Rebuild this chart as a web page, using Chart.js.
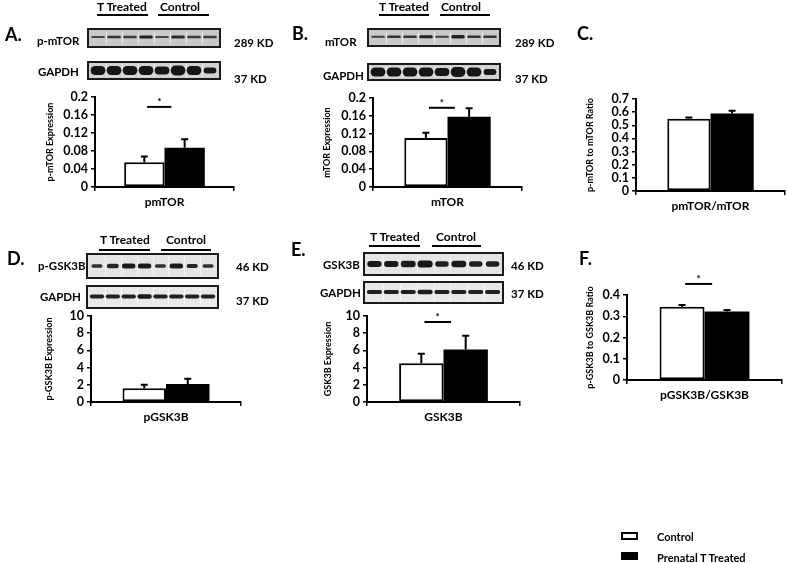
<!DOCTYPE html>
<html>
<head>
<meta charset="utf-8">
<script src="https://cdn.jsdelivr.net/npm/chart.js@4.4.1/dist/chart.umd.min.js"></script>
<style>
    body { margin: 0; background: #fff; }
    #figure { position: relative; width: 787px; height: 563px; overflow: hidden; font-family: Lato, 'Open Sans', sans-serif; color: #000; }
    #deco { position: absolute; left: 0; top: 0; }
    .lbl { position: absolute; font-weight: bold; white-space: nowrap; transform: translateY(-50%); line-height: 1; }
    .chart-box { position: absolute; }
</style>
</head>
<body>
<div id="figure">
    <canvas id="deco" width="787" height="563"></canvas>
</div>
<script>
// ========================================
// DATA
// ========================================

// A. p-mTOR
const categoriesA = ['pmTOR'];
const controlA = [0.055];
const controlErrA = [0.013];
const treatedA = [0.087];
const treatedErrA = [0.019];
const yTicksA = ['0', '0.04', '0.08', '0.12', '0.16', '0.2'];

// B. mTOR
const categoriesB = ['mTOR'];
const controlB = [0.110];
const controlErrB = [0.012];
const treatedB = [0.158];
const treatedErrB = [0.019];
const yTicksB = ['0', '0.04', '0.08', '0.12', '0.16', '0.2'];

// C. pmTOR / mTOR
const categoriesC = ['pmTOR/mTOR'];
const controlC = [0.55];
const controlErrC = [0.01];
const treatedC = [0.59];
const treatedErrC = [0.02];
const yTicksC = ['0', '0.1', '0.2', '0.3', '0.4', '0.5', '0.6', '0.7'];

// D. p-GSK3B
const categoriesD = ['pGSK3B'];
const controlD = [1.6];
const controlErrD = [0.4];
const treatedD = [2.1];
const treatedErrD = [0.6];
const yTicksD = ['0', '2', '4', '6', '8', '10'];

// E. GSK3B
const categoriesE = ['GSK3B'];
const controlE = [4.5];
const controlErrE = [1.1];
const treatedE = [6.1];
const treatedErrE = [1.6];
const yTicksE = ['0', '2', '4', '6', '8', '10'];

// F. pGSK3B / GSK3B
const categoriesF = ['pGSK3B/GSK3B'];
const controlF = [0.345];
const controlErrF = [0.008];
const treatedF = [0.322];
const treatedErrF = [0.007];
const yTicksF = ['0', '0.1', '0.2', '0.3', '0.4'];

// significance bar heights (data units), null = none
const sigLevels = { A: 0.178, B: 0.178, C: null, D: null, E: 9.3, F: 0.452 };

const seriesNames = ['Control', 'Prenatal T Treated'];

// ========================================
// PLUGINS
// ========================================

const errorBarPlugin = {
    id: 'errorBars',
    afterDatasetsDraw(chart) {
        const ctx = chart.ctx;
        const yScale = chart.scales.y;
        chart.data.datasets.forEach((ds, di) => {
            const meta = chart.getDatasetMeta(di);
            meta.data.forEach((bar, i) => {
                const yTop = yScale.getPixelForValue(ds.data[i] + ds.errors[i]);
                ctx.save();
                ctx.strokeStyle = '#000';
                ctx.lineWidth = 2;
                ctx.beginPath();
                ctx.moveTo(bar.x, bar.y);
                ctx.lineTo(bar.x, yTop);
                ctx.moveTo(bar.x - 3.5, yTop);
                ctx.lineTo(bar.x + 3.5, yTop);
                ctx.stroke();
                ctx.restore();
            });
        });
    }
};

const sigPlugin = {
    id: 'sigMark',
    afterDraw(chart, args, opts) {
        if (opts.value == null) return;
        const ctx = chart.ctx;
        const bar = chart.getDatasetMeta(0).data[0];
        const y = chart.scales.y.getPixelForValue(opts.value);
        const x0 = bar.x + bar.width * 0.07;
        const x1 = x0 + bar.width * 0.6;
        ctx.save();
        ctx.strokeStyle = '#000';
        ctx.lineWidth = 2;
        ctx.beginPath();
        ctx.moveTo(x0, y);
        ctx.lineTo(x1, y);
        ctx.stroke();
        ctx.fillStyle = '#000';
        ctx.font = 'bold 10px Lato';
        ctx.textAlign = 'center';
        ctx.fillText('*', (x0 + x1) / 2, y - 2);
        ctx.restore();
    }
};

// ========================================
// CHART BUILDER
// ========================================

const figure = document.getElementById('figure');

function makeChart(geo, labels, control, controlErr, treated, treatedErr, yMax, yStep, yTicks, yTitle, sig) {
    const padTop = geo.padTop || 14;
    const xAxisH = 24;
    const cLeft = geo.titleX - 5;
    const cTop = geo.top - padTop;
    const cWidth = Math.min(787, geo.right + 4) - cLeft;
    const cHeight = geo.bottom + xAxisH - cTop;

    const box = document.createElement('div');
    box.className = 'chart-box';
    box.style.left = cLeft + 'px';
    box.style.top = cTop + 'px';
    const canvas = document.createElement('canvas');
    canvas.width = cWidth;
    canvas.height = cHeight;
    box.appendChild(canvas);
    figure.appendChild(box);

    return new Chart(canvas, {
        type: 'bar',
        data: {
            labels: labels,
            datasets: [
                {
                    label: seriesNames[0], data: control, errors: controlErr,
                    backgroundColor: '#fff', borderColor: '#000', borderWidth: 2, borderSkipped: false,
                    categoryPercentage: 0.58, barPercentage: 1
                },
                {
                    label: seriesNames[1], data: treated, errors: treatedErr,
                    backgroundColor: '#000', borderColor: '#000', borderWidth: 0,
                    categoryPercentage: 0.58, barPercentage: 1
                }
            ]
        },
        options: {
            responsive: false,
            animation: false,
            layout: { padding: { top: padTop, right: cWidth - (geo.right - cLeft), left: 0, bottom: 0 } },
            plugins: {
                legend: { display: false },
                tooltip: { enabled: false },
                sigMark: { value: sig }
            },
            scales: {
                x: {
                    afterFit: (s) => { s.height = xAxisH; },
                    grid: { drawOnChartArea: false, tickLength: 4, color: '#000', lineWidth: 1.5 },
                    border: { color: '#000', width: 2 },
                    ticks: { color: '#000', padding: 4, font: { family: 'Lato', size: 12, weight: 'bold' } }
                },
                y: {
                    min: 0,
                    max: yMax,
                    afterFit: (s) => { s.width = geo.left - cLeft; },
                    grid: { drawOnChartArea: false, tickLength: 4, color: '#000', lineWidth: 1.5 },
                    border: { color: '#000', width: 2 },
                    ticks: {
                        stepSize: yStep,
                        autoSkip: false,
                        color: '#000',
                        padding: 3,
                        font: { family: 'Lato', size: 12.5, weight: 'bold', lineHeight: 1 },
                        callback: (v) => {
                            const t = yTicks.find(t => Math.abs(Number(t) - v) < 1e-9);
                            return t === undefined ? '' : t;
                        }
                    },
                    title: {
                        display: true,
                        text: yTitle,
                        color: '#000',
                        padding: { top: 0, bottom: 0 },
                        font: { family: 'Lato', size: 9, weight: 'bold' }
                    }
                }
            }
        },
        plugins: [errorBarPlugin, sigPlugin]
    });
}

makeChart({ titleX: 50, left: 95, right: 234, top: 97, bottom: 187 },
    categoriesA, controlA, controlErrA, treatedA, treatedErrA, 0.2, 0.04, yTicksA, 'p-mTOR Expression', sigLevels.A);
makeChart({ titleX: 327, left: 373, right: 522, top: 98, bottom: 187 },
    categoriesB, controlB, controlErrB, treatedB, treatedErrB, 0.2, 0.04, yTicksB, 'mTOR Expression', sigLevels.B);
makeChart({ titleX: 590, left: 636, right: 785, top: 99, bottom: 191 },
    categoriesC, controlC, controlErrC, treatedC, treatedErrC, 0.7, 0.1, yTicksC, 'p-mTOR to mTOR Ratio', sigLevels.C);
makeChart({ titleX: 49, left: 91, right: 241, top: 316, bottom: 402 },
    categoriesD, controlD, controlErrD, treatedD, treatedErrD, 10, 2, yTicksD, 'p-GSK3B Expression', sigLevels.D);
makeChart({ titleX: 328, left: 367, right: 520, top: 316, bottom: 402 },
    categoriesE, controlE, controlErrE, treatedE, treatedErrE, 10, 2, yTicksE, 'GSK3B Expression', sigLevels.E);
makeChart({ titleX: 590, left: 627, right: 782, top: 295, bottom: 380, padTop: 28 },
    categoriesF, controlF, controlErrF, treatedF, treatedErrF, 0.4, 0.1, yTicksF, 'p-GSK3B to GSK3B Ratio', sigLevels.F);

// ========================================
// BLOTS, UNDERLINES, LEGEND (decoration)
// ========================================

const deco = document.getElementById('deco').getContext('2d');

function drawBlot(b) {
    const ctx = deco;
    ctx.save();
    ctx.fillStyle = b.bg;
    ctx.fillRect(b.x, b.y, b.w, b.h);
    const lw = (b.w - 4) / 8;
    // lane separators
    ctx.strokeStyle = 'rgba(255,255,255,0.55)';
    ctx.lineWidth = 1;
    for (let i = 1; i < 8; i++) {
        const lx = Math.round(b.x + 2 + lw * i) + 0.5;
        ctx.beginPath();
        ctx.moveTo(lx, b.y + 2);
        ctx.lineTo(lx, b.y + b.h - 2);
        ctx.stroke();
    }
    // bands
    ctx.filter = 'blur(0.7px)';
    for (let i = 0; i < 8; i++) {
        const cx = b.x + 2 + lw * (i + 0.5);
        const bw = lw * b.bandW[i];
        const th = b.th[i];
        const cy = b.y + b.h * b.cy;
        ctx.fillStyle = 'rgba(15,15,15,' + b.alpha[i] + ')';
        ctx.beginPath();
        ctx.roundRect(cx - bw / 2, cy - th / 2, bw, th, th / 2);
        ctx.fill();
    }
    ctx.filter = 'none';
    ctx.strokeStyle = '#1a1a1a';
    ctx.lineWidth = 2;
    ctx.strokeRect(b.x, b.y, b.w, b.h);
    ctx.restore();
}

const thinBand = [0.85, 0.85, 0.85, 0.85, 0.85, 0.85, 0.85, 0.85];
const fullBand = [0.92, 0.92, 0.92, 0.92, 0.92, 0.92, 0.92, 0.8];

const blots = [
    // A
    { x: 88, y: 29, w: 132, h: 18, bg: '#c8c8c8', cy: 0.45, bandW: thinBand, th: [2, 2.5, 2.5, 3, 2, 3, 2.5, 2.5], alpha: [0.7, 0.8, 0.75, 0.9, 0.7, 0.85, 0.75, 0.75] },
    { x: 88, y: 62, w: 132, h: 17, bg: '#d2d2d2', cy: 0.5, bandW: fullBand, th: [9, 9, 9, 9, 8, 10, 9, 6], alpha: [0.97, 0.97, 0.97, 0.97, 0.97, 0.97, 0.97, 0.95] },
    // B
    { x: 368, y: 29, w: 132, h: 17, bg: '#c8c8c8', cy: 0.45, bandW: thinBand, th: [2, 2.5, 2.5, 3, 2, 3.5, 2.5, 2.5], alpha: [0.75, 0.8, 0.8, 0.9, 0.75, 0.9, 0.8, 0.8] },
    { x: 368, y: 64, w: 132, h: 16, bg: '#d2d2d2', cy: 0.5, bandW: fullBand, th: [9, 9, 9, 9, 8, 10, 9, 6], alpha: [0.97, 0.97, 0.97, 0.97, 0.97, 0.97, 0.97, 0.95] },
    // D
    { x: 87, y: 254, w: 131, h: 24, bg: '#e4e4e4', cy: 0.5, bandW: [0.7, 0.75, 0.85, 0.85, 0.7, 0.85, 0.7, 0.7], th: [3.5, 4.5, 5, 5, 3.5, 5, 4, 3.5], alpha: [0.85, 0.9, 0.95, 0.95, 0.85, 0.95, 0.9, 0.85] },
    { x: 87, y: 286, w: 131, h: 22, bg: '#e8e8e8', cy: 0.48, bandW: [0.9, 0.9, 0.9, 0.9, 0.9, 0.9, 0.9, 0.9], th: [4, 4, 4, 4.5, 4, 4, 4, 4], alpha: [0.92, 0.92, 0.92, 0.95, 0.92, 0.92, 0.92, 0.92] },
    // E
    { x: 364, y: 253, w: 139, h: 22, bg: '#e4e4e4', cy: 0.5, bandW: [0.85, 0.85, 0.88, 0.9, 0.8, 0.88, 0.8, 0.8], th: [6, 6, 6.5, 7, 5.5, 6.5, 5.5, 5.5], alpha: [0.95, 0.95, 0.95, 0.97, 0.93, 0.95, 0.93, 0.93] },
    { x: 364, y: 282, w: 139, h: 21, bg: '#e8e8e8', cy: 0.48, bandW: [0.9, 0.9, 0.9, 0.9, 0.9, 0.9, 0.9, 0.9], th: [4, 4, 4, 4.5, 4, 4, 4, 4], alpha: [0.92, 0.92, 0.92, 0.95, 0.92, 0.92, 0.92, 0.92] }
];
blots.forEach(drawBlot);

// group underlines
deco.strokeStyle = '#000';
deco.lineWidth = 2;
[[97, 148, 15], [158, 209, 15], [379, 429, 15], [440, 490, 15],
 [99, 150, 250], [161, 211, 250], [369, 420, 246], [432, 481, 246]].forEach(([x0, x1, y]) => {
    deco.beginPath();
    deco.moveTo(x0, y);
    deco.lineTo(x1, y);
    deco.stroke();
});

// legend swatches
deco.fillStyle = '#fff';
deco.fillRect(622, 533, 15, 6);
deco.strokeRect(622, 533, 15, 6);
deco.fillStyle = '#000';
deco.fillRect(621, 552, 17, 8);

// ========================================
// TEXT LABELS
// ========================================

const labels = [
    ['A.', 5, 34, 18], ['B.', 292, 33, 18], ['C.', 577, 33, 18],
    ['D.', 7, 258, 18], ['E.', 291, 249, 18], ['F.', 579, 258, 18],
    ['T Treated', 97, 7, 12], ['Control', 160, 7, 12],
    ['T Treated', 379, 7, 12], ['Control', 441, 7, 12],
    ['T Treated', 100, 240, 12], ['Control', 166, 240, 12],
    ['T Treated', 370, 237, 12], ['Control', 436, 237, 12],
    ['p-mTOR', 37, 41, 11.5], ['GAPDH', 38, 72, 11.5], ['289 KD', 234, 43, 11.5], ['37 KD', 234, 79, 11.5],
    ['mTOR', 325, 42, 11.5], ['GAPDH', 323, 76, 11.5], ['289 KD', 515, 43, 11.5], ['37 KD', 515, 79, 11.5],
    ['p-GSK3B', 38, 266, 11.5], ['GAPDH', 40, 297, 11.5], ['46 KD', 236, 267, 11.5], ['37 KD', 236, 301, 11.5],
    ['GSK3B', 323, 265, 11.5], ['GAPDH', 320, 293, 11.5], ['46 KD', 511, 266, 11.5], ['37 KD', 511, 294, 11.5],
    ['Control', 657, 536, 11], ['Prenatal T Treated', 657, 557, 11]
];

labels.forEach(([text, x, cy, size]) => {
    const el = document.createElement('div');
    el.className = 'lbl';
    el.textContent = text;
    el.style.left = x + 'px';
    el.style.top = cy + 'px';
    el.style.fontSize = size + 'px';
    figure.appendChild(el);
});
</script>
</body>
</html>
